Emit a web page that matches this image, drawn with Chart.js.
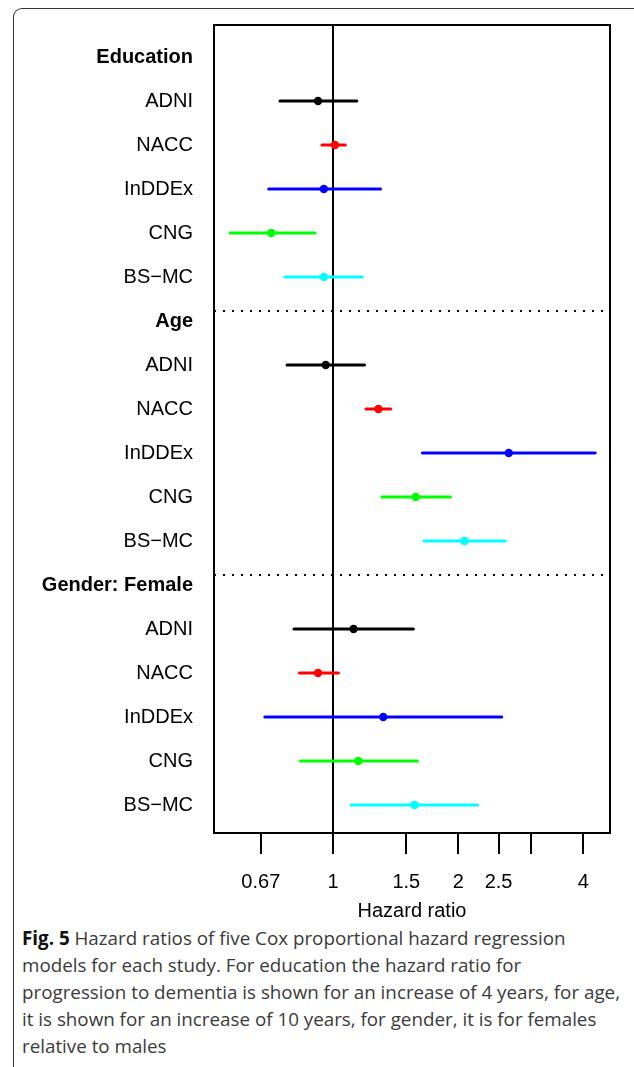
<!DOCTYPE html>
<html>
<head>
<meta charset="utf-8">
<script src="https://cdn.jsdelivr.net/npm/chart.js@4.4.1/dist/chart.umd.min.js"></script>
<style>
  body { margin: 0; background: #fff; width: 634px; height: 1067px; overflow: hidden; position: relative; }
  #frame { position: absolute; left: 13px; top: 8px; width: 700px; height: 1200px;
           border-left: 1.5px solid #333; border-top: 1.5px solid #333; border-top-left-radius: 9px; }
  #wrap { position: absolute; left: 0; top: 0; width: 634px; height: 925px; }
  #caption { position: absolute; left: 22px; top: 925px; white-space: nowrap; font-family: "Open Sans", sans-serif;
             font-size: 18.8px; line-height: 27px; color: #3a3a3a; }
  #caption b { color: #111; }
</style>
</head>
<body>
<div id="frame"></div>
<div id="wrap"><canvas id="forest"></canvas></div>
<div id="caption"><b>Fig. 5</b> Hazard ratios of five Cox proportional hazard regression<br>models for each study. For education the hazard ratio for<br>progression to dementia is shown for an increase of 4 years, for age,<br>it is shown for an increase of 10 years, for gender, it is for females<br>relative to males</div>
<script>
// row labels, top to bottom
const rowLabels = ["Education", "ADNI", "NACC", "InDDEx", "CNG", "BS\u2212MC",
                   "Age", "ADNI", "NACC", "InDDEx", "CNG", "BS\u2212MC",
                   "Gender: Female", "ADNI", "NACC", "InDDEx", "CNG", "BS\u2212MC"];
const headerRows = [0, 6, 12];
const studies = ["ADNI", "NACC", "InDDEx", "CNG", "BS\u2212MC"];
const studyColors = ["#000000", "#ff0000", "#0000ff", "#00ff00", "#00ffff"];

// hazard ratios + 95% CI
const eduHR  = [0.92, 1.01, 0.95, 0.71, 0.95];
const eduLow = [0.745, 0.94, 0.70, 0.565, 0.765];
const eduHigh= [1.14, 1.07, 1.30, 0.905, 1.175];

const ageHR  = [0.96, 1.285, 2.645, 1.58, 2.07];
const ageLow = [0.775, 1.20, 1.64, 1.31, 1.655];
const ageHigh= [1.19, 1.375, 4.27, 1.915, 2.595];

const femHR  = [1.12, 0.92, 1.32, 1.15, 1.57];
const femLow = [0.805, 0.83, 0.685, 0.835, 1.105];
const femHigh= [1.56, 1.03, 2.545, 1.595, 2.225];

// x axis
const xTicks = [0.67, 1, 1.5, 2, 2.5, 3, 4];
const xTickLabels = ["0.67", "1", "1.5", "2", "2.5", "", "4"];
const xMin = 0.517, xMax = 4.635;
const yMin = -0.727, yMax = 17.636;
const separatorRows = [5.77, 11.77];

const sections = [
  { first: 1, hr: eduHR, low: eduLow, high: eduHigh },
  { first: 7, hr: ageHR, low: ageLow, high: ageHigh },
  { first: 13, hr: femHR, low: femLow, high: femHigh },
];

const datasets = [];

// point estimates (first so they sit on top)
studies.forEach((s, i) => {
  datasets.push({
    type: "scatter",
    label: s,
    data: sections.map(sec => ({ x: sec.hr[i], y: sec.first + i })),
    pointRadius: 4.2,
    pointBackgroundColor: studyColors[i],
    pointBorderWidth: 0,
    order: 0,
  });
});

// confidence intervals
sections.forEach(sec => {
  studies.forEach((s, i) => {
    datasets.push({
      type: "line",
      data: [{ x: sec.low[i], y: sec.first + i }, { x: sec.high[i], y: sec.first + i }],
      borderColor: studyColors[i],
      borderWidth: 3,
      borderCapStyle: "round",
      pointRadius: 0,
      order: 1,
    });
  });
});

// dotted separators between sections
separatorRows.forEach(r => {
  datasets.push({
    type: "line",
    data: [{ x: xMin, y: r }, { x: xMax, y: r }],
    borderColor: "#000",
    borderWidth: 2,
    borderDash: [2, 7],
    pointRadius: 0,
    order: 2,
  });
});

// box around the plot area
const boxPlugin = {
  id: "box",
  beforeDatasetsDraw(chart) {
    const a = chart.chartArea, c = chart.ctx;
    c.save();
    c.strokeStyle = "#000";
    c.lineWidth = 2;
    c.strokeRect(a.left, a.top, a.right - a.left, a.bottom - a.top);
    c.restore();
  }
};

new Chart(document.getElementById("forest"), {
  type: "scatter",
  data: { datasets },
  plugins: [boxPlugin],
  options: {
    responsive: true,
    maintainAspectRatio: false,
    animation: false,
    layout: { padding: { top: 17, right: 24, left: 0, bottom: 0 } },
    plugins: { legend: { display: false }, tooltip: { enabled: false } },
    scales: {
      x: {
        type: "logarithmic",
        min: xMin,
        max: xMax,
        afterBuildTicks: (scale) => { scale.ticks = xTicks.map(v => ({ value: v })); },
        afterFit: (scale) => { scale.height = 92; },
        ticks: {
          autoSkip: false,
          maxRotation: 0,
          padding: 16,
          color: "#000",
          font: { family: "Liberation Sans", size: 20 },
          callback: (v) => xTickLabels[xTicks.indexOf(v)],
        },
        grid: {
          color: (ctx) => (ctx.tick && ctx.tick.value === 1 ? "#000" : "rgba(0,0,0,0)"),
          lineWidth: 2,
          tickColor: "#000",
          tickLength: 21,
          tickWidth: 2,
        },
        border: { display: true, color: "#000", width: 2 },
        title: {
          display: true,
          text: "Hazard ratio",
          color: "#000",
          font: { family: "Liberation Sans", size: 20 },
          padding: { top: 0, bottom: 2 },
        },
      },
      y: {
        type: "linear",
        reverse: true,
        min: yMin,
        max: yMax,
        afterBuildTicks: (scale) => { scale.ticks = rowLabels.map((_, i) => ({ value: i })); },
        afterFit: (scale) => { scale.width = 214; },
        ticks: {
          autoSkip: false,
          padding: 13,
          color: "#000",
          font: (ctx) => ({
            family: "Liberation Sans",
            size: 20,
            weight: ctx.tick && headerRows.includes(ctx.tick.value) ? "bold" : "normal",
          }),
          callback: (v) => rowLabels[v],
        },
        grid: { display: false },
        border: { display: false },
      },
    },
  },
});
</script>
</body>
</html>
